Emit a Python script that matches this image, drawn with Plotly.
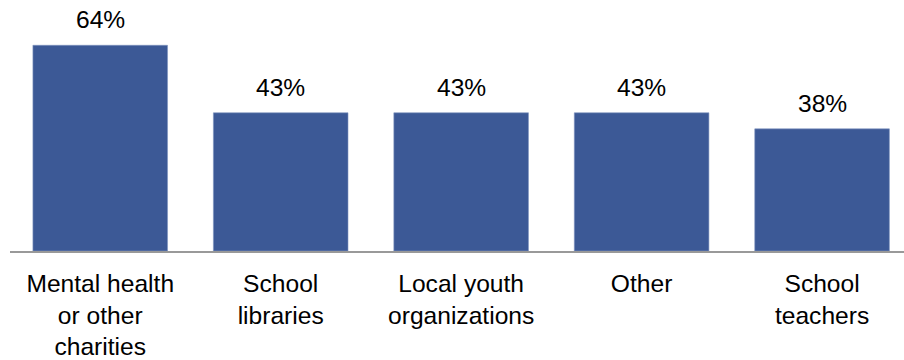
import plotly.graph_objects as go

categories = [
    "Mental health<br>or other<br>charities",
    "School<br>libraries",
    "Local youth<br>organizations",
    "Other",
    "School<br>teachers",
]
values = [64, 43, 43, 43, 38]
value_labels = ["64%", "43%", "43%", "43%", "38%"]

BAR_COLOR = "#3c5996"
FONT = "Liberation Sans, Arial, sans-serif"
TEXT_SIZE = 24.6

fig = go.Figure(
    go.Bar(
        x=list(range(len(categories))),
        y=values,
        width=0.746,
        marker=dict(color=BAR_COLOR, line=dict(color="#7f93bf", width=0.6)),
        hoverinfo="skip",
    )
)

for i, (v, lab) in enumerate(zip(values, value_labels)):
    fig.add_annotation(
        x=i, y=v, text=lab, showarrow=False,
        yanchor="bottom", yshift=10,
        font=dict(family=FONT, size=TEXT_SIZE, color="#000000"),
    )

fig.update_layout(
    width=904, height=360,
    margin=dict(l=10, r=0, t=26, b=107),
    paper_bgcolor="white", plot_bgcolor="white",
    showlegend=False,
    font=dict(family=FONT, size=TEXT_SIZE, color="#000000"),
    xaxis=dict(
        range=[-0.5, 4.454],
        tickmode="array",
        tickvals=list(range(len(categories))),
        ticktext=categories,
        showline=True, linecolor="#999999", linewidth=2,
        showgrid=False, zeroline=False, ticks="",
        ticklabelstandoff=9,
        tickfont=dict(family=FONT, size=TEXT_SIZE, color="#000000"),
        fixedrange=True,
    ),
    yaxis=dict(
        range=[0, 70], visible=False, showgrid=False, zeroline=False,
        fixedrange=True,
    ),
)

fig.write_html("out.html")
